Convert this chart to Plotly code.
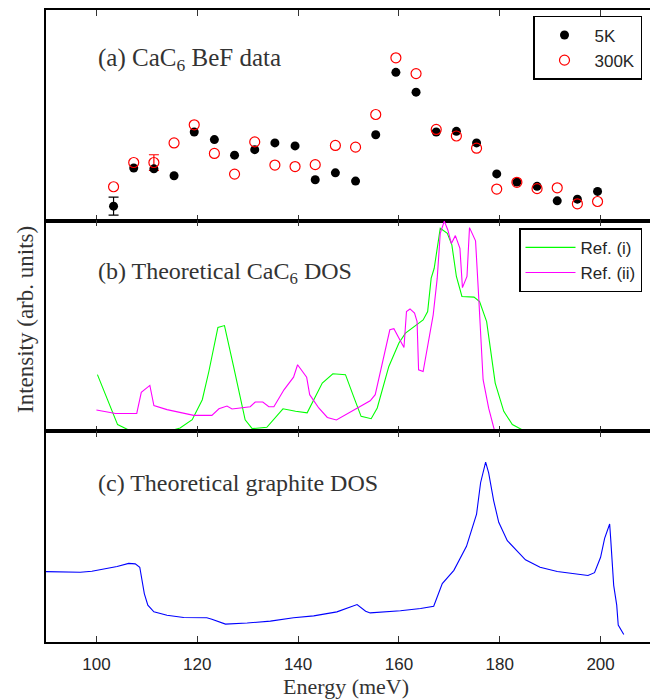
import plotly.graph_objects as go
from plotly.subplots import make_subplots

# ---------------- Panel (a): CaC6 BeF data ----------------
energy_a = [103.4, 107.4, 111.4, 115.4, 119.4, 123.4, 127.4, 131.4, 135.4, 139.4,
            143.4, 147.4, 151.4, 155.4, 159.4, 163.4, 167.4, 171.4, 175.4, 179.4,
            183.4, 187.4, 191.4, 195.4, 199.4]
int_5K = [6.9, 25.0, 24.6, 21.3, 42.1, 38.5, 31.1, 33.7, 36.9, 35.5,
          19.4, 22.7, 18.8, 40.8, 70.4, 61.0, 42.1, 42.4, 36.9, 22.2,
          18.3, 16.3, 9.4, 10.2, 13.9]
int_300K = [16.1, 27.6, 27.6, 36.9, 45.5, 31.9, 22.1, 37.4, 26.4, 25.7,
            26.6, 35.7, 34.9, 50.4, 77.3, 69.8, 43.3, 40.2, 34.4, 15.0,
            18.2, 15.2, 15.6, 8.0, 9.1]
err_5K_x, err_5K_y, err_5K_e = [103.4], [6.9], [4.3]
err_300K_x, err_300K_y, err_300K_e = [111.4], [27.6], [3.7]

# ---------------- Panel (b): Theoretical CaC6 DOS ----------------
ref1_E = [100.2, 104.2, 106.7, 114.7, 116.6, 119.0, 121.0, 122.3, 124.1, 125.4,
          127.2, 128.6, 129.5, 130.9, 133.8, 137.0, 139.5, 141.8, 144.8, 146.9,
          149.4, 151.0, 152.5, 154.5, 155.7, 158.0, 160.0, 161.3, 163.6, 164.8,
          165.7, 166.4, 167.0, 168.2, 169.6, 170.5, 171.4, 172.5, 174.9, 176.0,
          177.4, 178.5, 179.1, 180.8, 182.5, 184.8, 200.0]
ref1_I = [26.9, 3.2, 0.3, 0.3, 1.6, 5.5, 15.0, 28.4, 49.3, 50.2,
          30.8, 15.8, 5.5, 1.3, 1.9, 10.7, 9.5, 8.8, 22.9, 27.3,
          26.9, 16.6, 7.1, 6.0, 11.1, 30.8, 41.9, 46.6, 50.5, 52.9,
          56.9, 72.7, 77.4, 96.4, 94.0, 88.5, 73.5, 64.0, 63.7, 61.6,
          52.1, 34.0, 22.9, 9.5, 3.2, 0.3, 0.0]
ref2_E = [100.0, 103.8, 108.0, 108.9, 110.6, 111.4, 114.0, 119.3, 122.9, 124.3,
          125.9, 126.9, 130.5, 131.5, 133.0, 134.2, 135.2, 137.2, 139.1, 139.9,
          141.7, 142.3, 144.1, 145.8, 147.6, 152.4, 154.3, 155.3, 156.7, 158.2,
          159.0, 161.0, 161.5, 162.2, 163.1, 163.6, 163.9, 164.8, 166.8, 167.6,
          168.2, 169.0, 169.7, 170.4, 171.2, 172.1, 172.6, 173.5, 174.0, 175.2,
          175.8, 176.7, 177.8, 179.0]
ref2_I = [10.1, 8.5, 8.5, 18.5, 21.8, 12.2, 10.3, 7.6, 7.6, 10.7,
          12.0, 10.6, 11.7, 13.9, 13.9, 11.7, 11.7, 19.7, 25.7, 31.6,
          25.7, 17.4, 11.1, 6.6, 5.4, 11.7, 14.5, 17.4, 31.6, 48.2,
          48.7, 39.8, 56.9, 58.1, 56.1, 52.1, 29.2, 28.4, 55.3, 72.7,
          94.0, 99.8, 95.6, 89.2, 92.9, 86.9, 68.2, 73.5, 96.7, 90.4,
          64.8, 24.5, 11.0, 0.0]

# ---------------- Panel (c): Theoretical graphite DOS ----------------
graph_E = [90.0, 92.8, 96.8, 99.1, 101.4, 104.1, 106.4, 107.7, 108.6, 109.0,
           109.5, 110.2, 111.4, 114.0, 117.3, 121.9, 122.9, 125.6, 129.9, 134.5,
           139.1, 143.1, 147.7, 151.7, 153.4, 154.3, 160.3, 164.3, 166.9, 168.6,
           170.9, 173.4, 175.4, 176.2, 177.2, 177.8, 178.8, 179.8, 181.5, 185.1,
           188.0, 191.4, 195.7, 197.5, 198.8, 200.0, 200.8, 201.8, 202.0, 202.6,
           203.2, 203.5, 204.6]
graph_I = [33.4, 33.2, 33.1, 33.6, 34.7, 35.8, 37.3, 37.1, 35.5, 30.0,
           23.0, 17.5, 14.3, 12.7, 11.6, 11.5, 10.8, 8.5, 9.0, 9.9,
           11.5, 12.4, 14.3, 17.8, 14.6, 13.8, 14.8, 15.9, 17.0, 27.7,
           34.0, 45.4, 60.7, 75.6, 85.4, 80.3, 67.0, 56.8, 48.1, 39.0,
           35.5, 33.5, 32.4, 31.6, 32.9, 40.2, 49.2, 56.0, 49.2, 26.9,
           17.5, 8.0, 3.6]

tick_vals = [100, 120, 140, 160, 180, 200]
tick_text = ["100", "120", "140", "160", "180", "200"]

SERIF = "Liberation Serif"
SANS = "Liberation Sans"
TXT = "#262626"

# The page body adds an 8px offset; plot area (screen) spans x 46..651, y 8..642
PX0, PX1, PY0, PY1 = 46.0, 651.0, 8.0, 642.0


def px(xs):
    return (xs - PX0) / (PX1 - PX0)


def py(ys):
    return (PY1 - ys) / (PY1 - PY0)


fig = make_subplots(rows=3, cols=1, shared_xaxes=True, vertical_spacing=0)

# representative error bars
fig.add_trace(go.Scatter(x=err_5K_x, y=err_5K_y, mode="lines", showlegend=False,
                         line=dict(color="black"),
                         error_y=dict(type="data", array=err_5K_e, color="black",
                                      thickness=1.2, width=5)), row=1, col=1)
fig.add_trace(go.Scatter(x=err_300K_x, y=err_300K_y, mode="lines", showlegend=False,
                         line=dict(color="red"),
                         error_y=dict(type="data", array=err_300K_e, color="red",
                                      thickness=1.2, width=5)), row=1, col=1)
fig.add_trace(go.Scatter(x=energy_a, y=int_5K, mode="markers", name="5K",
                         marker=dict(symbol="circle", size=9, color="black"),
                         legend="legend"), row=1, col=1)
fig.add_trace(go.Scatter(x=energy_a, y=int_300K, mode="markers", name="300K",
                         marker=dict(symbol="circle-open", size=10, color="red",
                                     line=dict(width=1.2, color="red")),
                         legend="legend"), row=1, col=1)

fig.add_trace(go.Scatter(x=ref1_E, y=ref1_I, mode="lines", name="Ref. (i)",
                         line=dict(color="#00ff00", width=1.1),
                         legend="legend2"), row=2, col=1)
fig.add_trace(go.Scatter(x=ref2_E, y=ref2_I, mode="lines", name="Ref. (ii)",
                         line=dict(color="#ff00ff", width=1.1),
                         legend="legend2"), row=2, col=1)

fig.add_trace(go.Scatter(x=graph_E, y=graph_I, mode="lines", showlegend=False,
                         line=dict(color="#0000ff", width=1.1)), row=3, col=1)

domains = {1: [2/3, 1.0], 2: [1/3, 2/3], 3: [0.0, 1/3]}
for r in (1, 2, 3):
    fig.update_xaxes(range=[90, 210], tickvals=tick_vals, ticktext=tick_text,
                     ticks="inside", ticklen=6, tickwidth=1, tickcolor="#333",
                     showline=True, linecolor="black", linewidth=1.5,
                     mirror="allticks", showgrid=False, zeroline=False,
                     showticklabels=(r == 3),
                     tickfont=dict(family=SANS, size=17, color=TXT),
                     row=r, col=1)
    fig.update_yaxes(range=[0, 100], domain=domains[r], showticklabels=False,
                     ticks="", showline=True, linecolor="black", linewidth=1.5,
                     mirror=True, showgrid=False, zeroline=False,
                     row=r, col=1)
fig.update_xaxes(linewidth=2, ticklabelstandoff=6, row=3, col=1)

ann_font = dict(family=SERIF, size=24, color="#333333")
fig.add_annotation(x=100, xref="x", y=py(58), yref="paper",
                   text="(a) CaC<sub>6</sub> BeF data", showarrow=False,
                   xanchor="left", yanchor="middle", font=dict(family=SERIF, size=25, color="#333333"))
fig.add_annotation(x=100, xref="x", y=py(272), yref="paper",
                   text="(b) Theoretical CaC<sub>6</sub> DOS", showarrow=False,
                   xanchor="left", yanchor="middle", font=ann_font)
fig.add_annotation(x=100, xref="x", y=py(482), yref="paper",
                   text="(c) Theoretical graphite DOS", showarrow=False,
                   xanchor="left", yanchor="middle", font=ann_font)
fig.add_annotation(x=px(346), xref="paper", y=py(687), yref="paper",
                   text="Energy (meV)", showarrow=False, xanchor="center",
                   yanchor="middle", font=dict(family=SERIF, size=22, color="#333333"))
fig.add_annotation(x=px(25), xref="paper", y=py(319), yref="paper",
                   text="Intensity (arb. units)", showarrow=False, textangle=-90,
                   xanchor="center", yanchor="middle",
                   font=dict(family=SERIF, size=23, color="#333333"))

leg_common = dict(bgcolor="white", bordercolor="black", borderwidth=1.5,
                  font=dict(family=SANS, size=17, color=TXT),
                  xanchor="right", yanchor="top", itemwidth=50,
                  tracegroupgap=0)
fig.update_layout(
    width=650, height=691,
    margin=dict(l=38, r=7, t=0, b=57),
    paper_bgcolor="white", plot_bgcolor="white",
    legend=dict(x=px(642), y=py(14), **leg_common),
    legend2=dict(x=px(642), y=py(227), **leg_common),
)

fig.write_html("out.html")
